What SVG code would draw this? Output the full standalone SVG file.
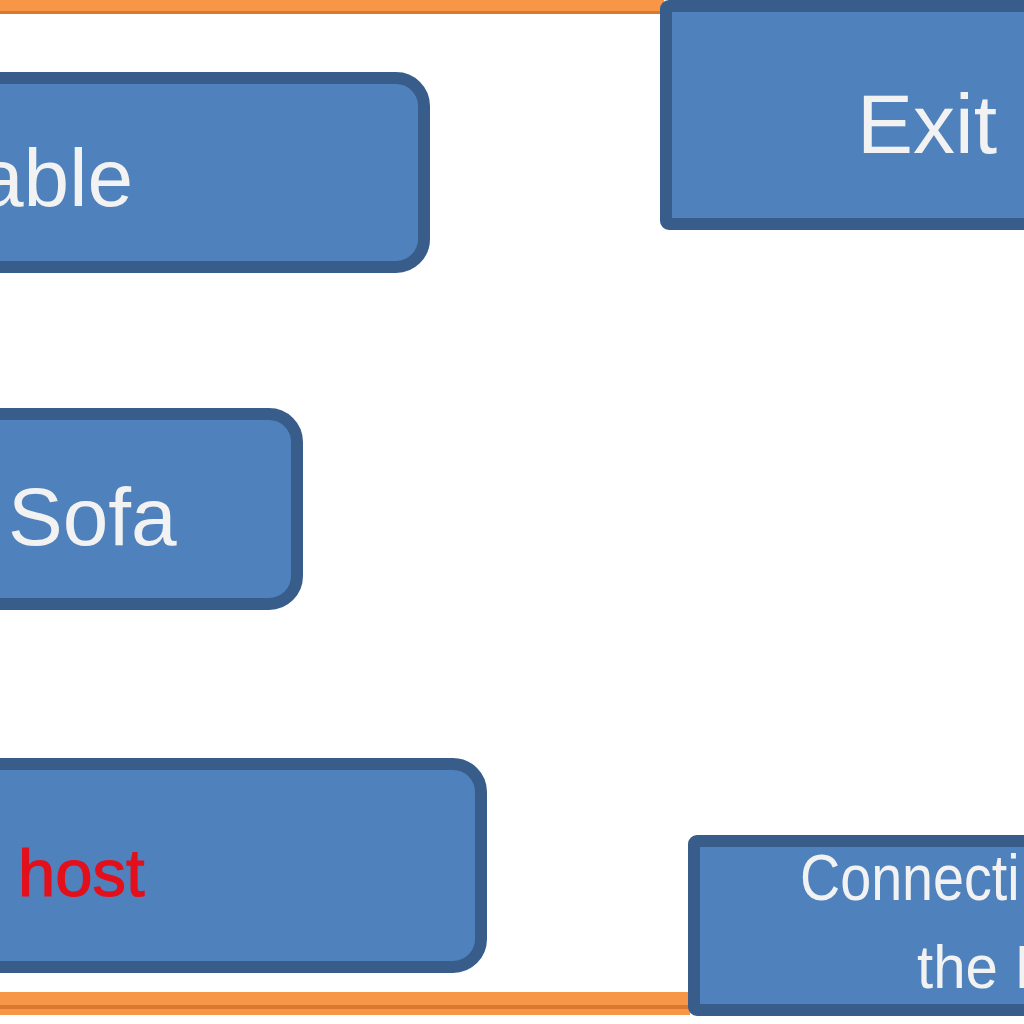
<svg xmlns="http://www.w3.org/2000/svg" width="1024" height="1024" viewBox="0 0 1024 1024">
  <style>
    .box { fill: #4F81BD; stroke: #385D8A; stroke-width: 12; }
    .lbl { font-family: "Liberation Sans", Arial, sans-serif; fill: #F2F2F2; }
    .red { fill: #E3101C; stroke: #E3101C; stroke-width: 1.2; }
    .orange { fill: #F79646; }
    .orangeEdge { fill: #D9782F; }
  </style>
  <rect width="1024" height="1024" fill="#FFFFFF"/>
  <g id="connectors">
    <rect class="orange" x="0" y="0" width="664" height="12"/>
    <rect class="orangeEdge" x="0" y="11" width="664" height="3"/>
    <rect class="orange" x="0" y="992" width="690" height="23"/>
    <rect class="orangeEdge" x="0" y="1005" width="690" height="4"/>
  </g>
  <g id="node-table">
    <rect class="box" x="-40" y="78" width="464" height="189" rx="28" ry="28"/>
    <text class="lbl" x="133" y="206" font-size="82" text-anchor="end">Table</text>
  </g>
  <g id="node-sofa">
    <rect class="box" x="-40" y="414" width="337" height="190" rx="28" ry="28"/>
    <text class="lbl" x="8" y="545" font-size="82">Sofa</text>
  </g>
  <g id="node-host">
    <rect class="box" x="-40" y="764" width="521" height="203" rx="28" ry="28"/>
    <text class="lbl red" x="18" y="896" font-size="67">host</text>
  </g>
  <g id="node-exit">
    <rect class="box" x="666" y="6" width="400" height="218" rx="3" ry="3"/>
    <text class="lbl" x="857" y="153" font-size="84">Exit</text>
  </g>
  <g id="node-connect">
    <rect class="box" x="694" y="841" width="400" height="169" rx="3" ry="3"/>
    <text class="lbl" transform="translate(800,900) scale(0.87,1)" font-size="64">Connecti</text>
    <text class="lbl" transform="translate(917,988) scale(0.94,1)" font-size="62">the I</text>
  </g>
</svg>
